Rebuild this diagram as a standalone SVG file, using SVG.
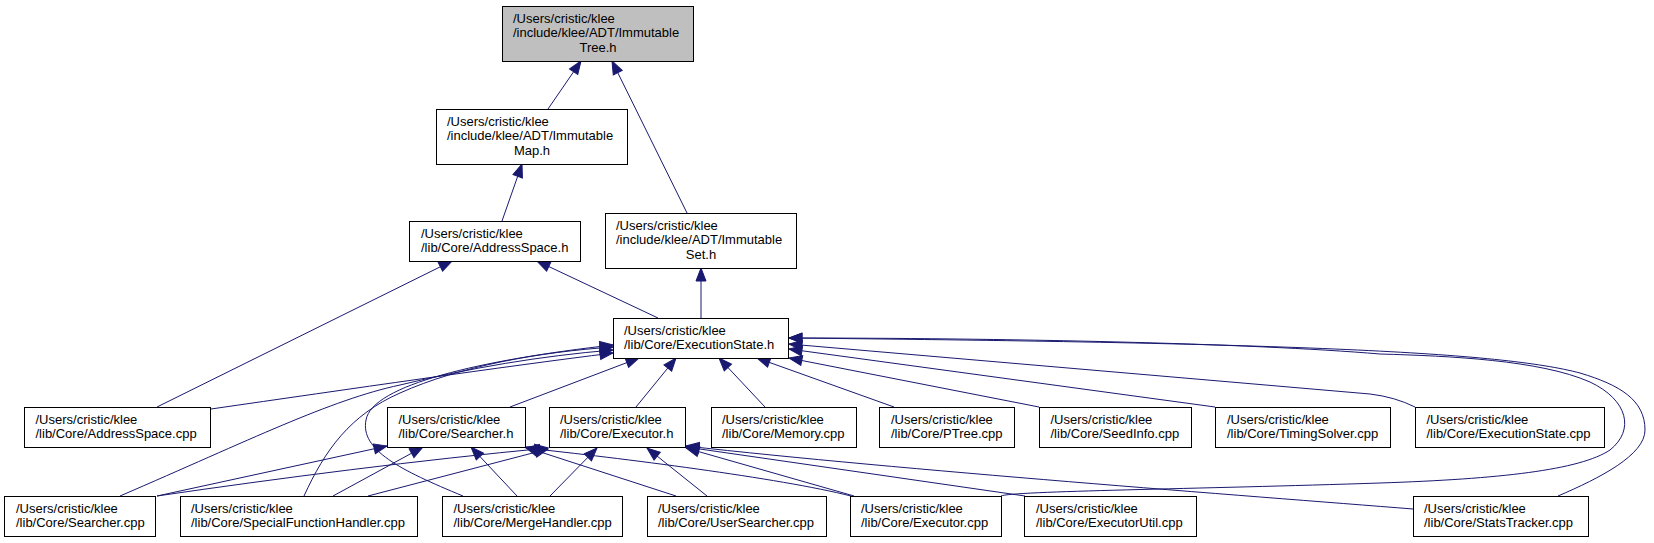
<svg xmlns="http://www.w3.org/2000/svg" width="1654" height="543" viewBox="0 0 1654 543">
<style>
.node rect{fill:#ffffff;stroke:#000000;stroke-width:1}
.node.root rect{fill:#bfbfbf}
.node text{font-family:"Liberation Sans",Arial,Helvetica,sans-serif;font-size:13px;fill:#000000}
.node text.c{text-anchor:middle}
#edges path{fill:none;stroke:#191970;stroke-width:1}
</style>
<defs>
<marker id="arr" markerWidth="14" markerHeight="11" refX="13" refY="5" orient="auto" markerUnits="userSpaceOnUse" overflow="visible">
<path d="M0,0 L13,5 L0,10 z" fill="#191970" stroke="#191970" stroke-width="1"/>
</marker>
</defs>
<rect width="1654" height="543" fill="#ffffff"/>
<g id="edges">
<path marker-end="url(#arr)" d="M548,109 L581,61"/>
<path marker-end="url(#arr)" d="M687,213 L612,61"/>
<path marker-end="url(#arr)" d="M502,221 L522,164"/>
<path marker-end="url(#arr)" d="M157,407 L452,261"/>
<path marker-end="url(#arr)" d="M658,318 L537,261"/>
<path marker-end="url(#arr)" d="M701,318 L701,268"/>
<path marker-end="url(#arr)" d="M211,409 C350,389 500,367 613,353"/>
<path marker-end="url(#arr)" d="M120,496 C250,440 330,400 400,385 C470,368 540,356 613,350"/>
<path marker-end="url(#arr)" d="M304,496 C325,450 350,415 400,393 C460,366 540,352 613,347"/>
<path marker-end="url(#arr)" d="M463,496 C400,470 360,450 366,420 C372,385 480,360 613,345"/>
<path marker-end="url(#arr)" d="M510,407 L639,358"/>
<path marker-end="url(#arr)" d="M636,407 L676,358"/>
<path marker-end="url(#arr)" d="M765,407 L719,358"/>
<path marker-end="url(#arr)" d="M894,407 L757,358"/>
<path marker-end="url(#arr)" d="M1039,407 L789,358"/>
<path marker-end="url(#arr)" d="M1215,407 L789,349"/>
<path marker-end="url(#arr)" d="M1415,407 Q1395,397 1370,394 L789,344"/>
<path marker-end="url(#arr)" d="M1001,496 C1010,491 1200,489 1380,483 C1500,479 1580,470 1610,450 C1635,430 1628,400 1590,382 C1540,360 1450,356 1380,354 C1250,343 1000,338 789,338"/>
<path marker-end="url(#arr)" d="M1558,496 C1600,478 1645,455 1645,430 C1645,400 1620,385 1580,373 C1500,352 1300,343 789,338"/>
<path marker-end="url(#arr)" d="M157,496 L387,446"/>
<path marker-end="url(#arr)" d="M333,496 L423,447"/>
<path marker-end="url(#arr)" d="M517,496 L471,447"/>
<path marker-end="url(#arr)" d="M676,496 L525,447"/>
<path marker-end="url(#arr)" d="M851,496 C780,478 620,458 526,448"/>
<path marker-end="url(#arr)" d="M157,496 C280,478 420,460 548,448"/>
<path marker-end="url(#arr)" d="M368,496 L548,449"/>
<path marker-end="url(#arr)" d="M550,496 L597,448"/>
<path marker-end="url(#arr)" d="M707,496 L647,448"/>
<path marker-end="url(#arr)" d="M854,496 L686,448"/>
<path marker-end="url(#arr)" d="M1025,496 L686,447"/>
<path marker-end="url(#arr)" d="M1413,509 C1250,496 900,470 686,446"/>
</g>
<g id="node-ImmutableTree" class="node root">
<rect x="502.5" y="6.5" width="191" height="55"/>
<text x="513" y="22.5">/Users/cristic/klee</text>
<text x="513" y="37">/include/klee/ADT/Immutable</text>
<text class="c" x="598" y="51.5">Tree.h</text>
</g>
<g id="node-ImmutableMap" class="node">
<rect x="436.5" y="109.5" width="191" height="55"/>
<text x="447" y="125.5">/Users/cristic/klee</text>
<text x="447" y="140">/include/klee/ADT/Immutable</text>
<text class="c" x="532" y="154.5">Map.h</text>
</g>
<g id="node-AddressSpace_h" class="node">
<rect x="409.5" y="221.5" width="171" height="40"/>
<text x="421" y="237.5">/Users/cristic/klee</text>
<text x="421" y="252">/lib/Core/AddressSpace.h</text>
</g>
<g id="node-ImmutableSet" class="node">
<rect x="605.5" y="213.5" width="191" height="55"/>
<text x="616" y="229.5">/Users/cristic/klee</text>
<text x="616" y="244">/include/klee/ADT/Immutable</text>
<text class="c" x="701" y="258.5">Set.h</text>
</g>
<g id="node-ExecutionState_h" class="node">
<rect x="613.5" y="318.5" width="175" height="40"/>
<text x="624" y="334.5">/Users/cristic/klee</text>
<text x="624" y="349">/lib/Core/ExecutionState.h</text>
</g>
<g id="node-AddressSpace_cpp" class="node">
<rect x="24.5" y="407.5" width="186" height="40"/>
<text x="35.5" y="423.5">/Users/cristic/klee</text>
<text x="35.5" y="438">/lib/Core/AddressSpace.cpp</text>
</g>
<g id="node-Searcher_h" class="node">
<rect x="387.5" y="407.5" width="138" height="40"/>
<text x="398.5" y="423.5">/Users/cristic/klee</text>
<text x="398.5" y="438">/lib/Core/Searcher.h</text>
</g>
<g id="node-Executor_h" class="node">
<rect x="549.5" y="407.5" width="136" height="40"/>
<text x="560" y="423.5">/Users/cristic/klee</text>
<text x="560" y="438">/lib/Core/Executor.h</text>
</g>
<g id="node-Memory_cpp" class="node">
<rect x="711.5" y="407.5" width="145" height="40"/>
<text x="722" y="423.5">/Users/cristic/klee</text>
<text x="722" y="438">/lib/Core/Memory.cpp</text>
</g>
<g id="node-PTree_cpp" class="node">
<rect x="879.5" y="407.5" width="135" height="40"/>
<text x="891" y="423.5">/Users/cristic/klee</text>
<text x="891" y="438">/lib/Core/PTree.cpp</text>
</g>
<g id="node-SeedInfo_cpp" class="node">
<rect x="1039.5" y="407.5" width="152" height="40"/>
<text x="1050.5" y="423.5">/Users/cristic/klee</text>
<text x="1050.5" y="438">/lib/Core/SeedInfo.cpp</text>
</g>
<g id="node-TimingSolver_cpp" class="node">
<rect x="1215.5" y="407.5" width="175" height="40"/>
<text x="1227" y="423.5">/Users/cristic/klee</text>
<text x="1227" y="438">/lib/Core/TimingSolver.cpp</text>
</g>
<g id="node-ExecutionState_cpp" class="node">
<rect x="1415.5" y="407.5" width="189" height="40"/>
<text x="1426.5" y="423.5">/Users/cristic/klee</text>
<text x="1426.5" y="438">/lib/Core/ExecutionState.cpp</text>
</g>
<g id="node-Searcher_cpp" class="node">
<rect x="4.5" y="496.5" width="151" height="40"/>
<text x="16" y="512.5">/Users/cristic/klee</text>
<text x="16" y="527">/lib/Core/Searcher.cpp</text>
</g>
<g id="node-SpecialFunctionHandler_cpp" class="node">
<rect x="180.5" y="496.5" width="237" height="40"/>
<text x="191" y="512.5">/Users/cristic/klee</text>
<text x="191" y="527">/lib/Core/SpecialFunctionHandler.cpp</text>
</g>
<g id="node-MergeHandler_cpp" class="node">
<rect x="442.5" y="496.5" width="180" height="40"/>
<text x="453.5" y="512.5">/Users/cristic/klee</text>
<text x="453.5" y="527">/lib/Core/MergeHandler.cpp</text>
</g>
<g id="node-UserSearcher_cpp" class="node">
<rect x="647.5" y="496.5" width="179" height="40"/>
<text x="658" y="512.5">/Users/cristic/klee</text>
<text x="658" y="527">/lib/Core/UserSearcher.cpp</text>
</g>
<g id="node-Executor_cpp" class="node">
<rect x="850.5" y="496.5" width="151" height="40"/>
<text x="861" y="512.5">/Users/cristic/klee</text>
<text x="861" y="527">/lib/Core/Executor.cpp</text>
</g>
<g id="node-ExecutorUtil_cpp" class="node">
<rect x="1024.5" y="496.5" width="172" height="40"/>
<text x="1036" y="512.5">/Users/cristic/klee</text>
<text x="1036" y="527">/lib/Core/ExecutorUtil.cpp</text>
</g>
<g id="node-StatsTracker_cpp" class="node">
<rect x="1413.5" y="496.5" width="175" height="40"/>
<text x="1424" y="512.5">/Users/cristic/klee</text>
<text x="1424" y="527">/lib/Core/StatsTracker.cpp</text>
</g>
</svg>
